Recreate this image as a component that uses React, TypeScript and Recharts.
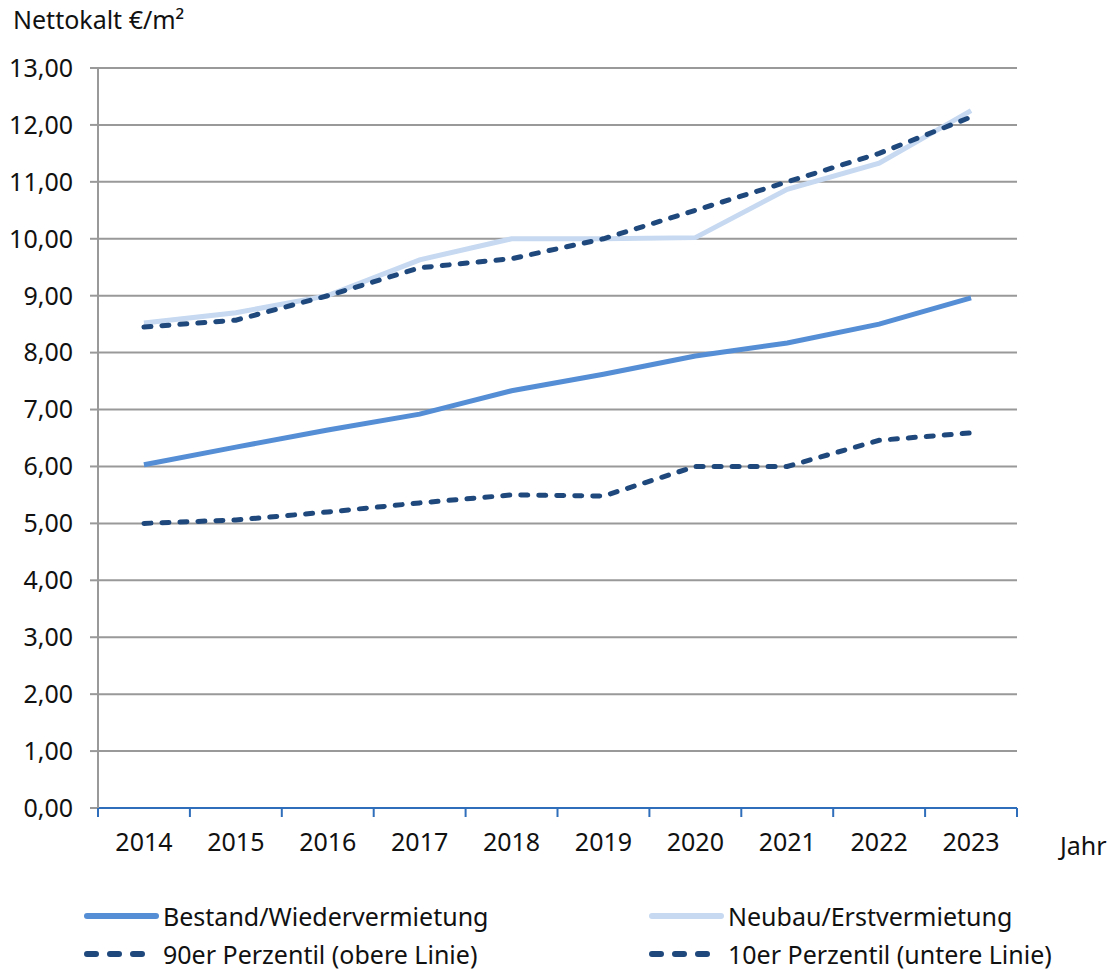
import React from "react";
import { LineChart, Line, XAxis, YAxis, CartesianGrid } from "recharts";

const years = ["2014", "2015", "2016", "2017", "2018", "2019", "2020", "2021", "2022", "2023"];
const bestand = [6.03, 6.34, 6.64, 6.92, 7.33, 7.62, 7.94, 8.17, 8.5, 8.96];
const neubau = [8.52, 8.7, 9.0, 9.63, 10.0, 10.0, 10.02, 10.87, 11.33, 12.25];
const p90 = [8.45, 8.57, 9.0, 9.49, 9.65, 10.0, 10.5, 11.0, 11.5, 12.14];
const p10 = [5.0, 5.06, 5.2, 5.36, 5.5, 5.48, 6.0, 6.0, 6.46, 6.59];
const yTicks = [0, 1, 2, 3, 4, 5, 6, 7, 8, 9, 10, 11, 12, 13];

const data = years.map((year, i) => ({
  year,
  bestand: bestand[i],
  neubau: neubau[i],
  p90: p90[i],
  p10: p10[i],
}));

const FONT = "'Noto Sans', sans-serif";
const DARK = "#1F497D";
const MID = "#558ED5";
const LIGHT = "#C6D9F1";
const AXIS_BLUE = "#2F6EBA";
const GRID = "#999999";

const W = 1110;
const H = 970;
const LEFT = 98;
const RIGHT = 93;
const BAND = (W - LEFT - RIGHT) / years.length;

function XTick(props: any) {
  const { x, y, payload, index } = props;
  const half = BAND / 2;
  return (
    <g>
      <line x1={x - half} x2={x - half} y1={y} y2={y + 9} stroke={AXIS_BLUE} strokeWidth={2} />
      {index === years.length - 1 && (
        <line x1={x + half} x2={x + half} y1={y} y2={y + 9} stroke={AXIS_BLUE} strokeWidth={2} />
      )}
      <text x={x} y={y + 43} textAnchor="middle" fontSize={25} fontFamily={FONT} fill="#111">
        {payload.value}
      </text>
    </g>
  );
}

function LegendItem({ color, dashed, label }: { color: string; dashed?: boolean; label: string }) {
  return (
    <div style={{ display: "flex", alignItems: "center", height: 38 }}>
      <svg width={76} height={10} style={{ marginRight: 3 }}>
        <line
          x1={3}
          x2={72}
          y1={5}
          y2={5}
          stroke={color}
          strokeWidth={6}
          strokeLinecap="round"
          strokeDasharray={dashed ? "9 14" : undefined}
        />
      </svg>
      <span>{label}</span>
    </div>
  );
}

export default function App() {
  return (
    <div
      style={{
        position: "absolute",
        left: 0,
        top: 0,
        width: W,
        height: H,
        background: "#fff",
        fontFamily: FONT,
        color: "#111",
        overflow: "hidden",
      }}
    >
      <div style={{ position: "absolute", left: 13, top: 2, fontSize: 25, lineHeight: "34px" }}>
        Nettokalt €/m²
      </div>
      <div style={{ position: "absolute", left: 1060, top: 828, fontSize: 25, lineHeight: "34px" }}>
        Jahr
      </div>

      <LineChart width={W} height={H} data={data} margin={{ top: 68, right: RIGHT, left: 0, bottom: 102 }}>
        <CartesianGrid vertical={false} stroke={GRID} strokeWidth={2} />
        <XAxis
          dataKey="year"
          scale="band"
          height={60}
          axisLine={{ stroke: AXIS_BLUE, strokeWidth: 2 }}
          tickLine={false}
          tickSize={0}
          tickMargin={0}
          tick={<XTick />}
          interval={0}
        />
        <YAxis
          width={LEFT}
          domain={[0, 13]}
          ticks={yTicks}
          interval={0}
          axisLine={{ stroke: GRID, strokeWidth: 2 }}
          tickLine={{ stroke: GRID, strokeWidth: 2 }}
          tickSize={8}
          tickMargin={17}
          tickFormatter={(v: number) => v.toFixed(2).replace(".", ",")}
          tick={{ fontSize: 25, fontFamily: FONT, fill: "#111" }}
        />
        <Line
          dataKey="neubau"
          stroke={LIGHT}
          strokeWidth={5}
          dot={false}
          type="linear"
          isAnimationActive={false}
        />
        <Line
          dataKey="bestand"
          stroke={MID}
          strokeWidth={5}
          dot={false}
          type="linear"
          isAnimationActive={false}
        />
        <Line
          dataKey="p90"
          stroke={DARK}
          strokeWidth={5}
          strokeDasharray="7 11"
          strokeLinecap="round"
          dot={false}
          type="linear"
          isAnimationActive={false}
        />
        <Line
          dataKey="p10"
          stroke={DARK}
          strokeWidth={5}
          strokeDasharray="7 11"
          strokeLinecap="round"
          dot={false}
          type="linear"
          isAnimationActive={false}
        />
      </LineChart>

      <div style={{ position: "absolute", left: 84, top: 897, fontSize: 25, lineHeight: "32px" }}>
        <LegendItem color={MID} label="Bestand/Wiedervermietung" />
        <LegendItem color={DARK} dashed label="90er Perzentil (obere Linie)" />
      </div>
      <div style={{ position: "absolute", left: 649, top: 897, fontSize: 25, lineHeight: "32px" }}>
        <LegendItem color={LIGHT} label="Neubau/Erstvermietung" />
        <LegendItem color={DARK} dashed label="10er Perzentil (untere Linie)" />
      </div>
    </div>
  );
}
